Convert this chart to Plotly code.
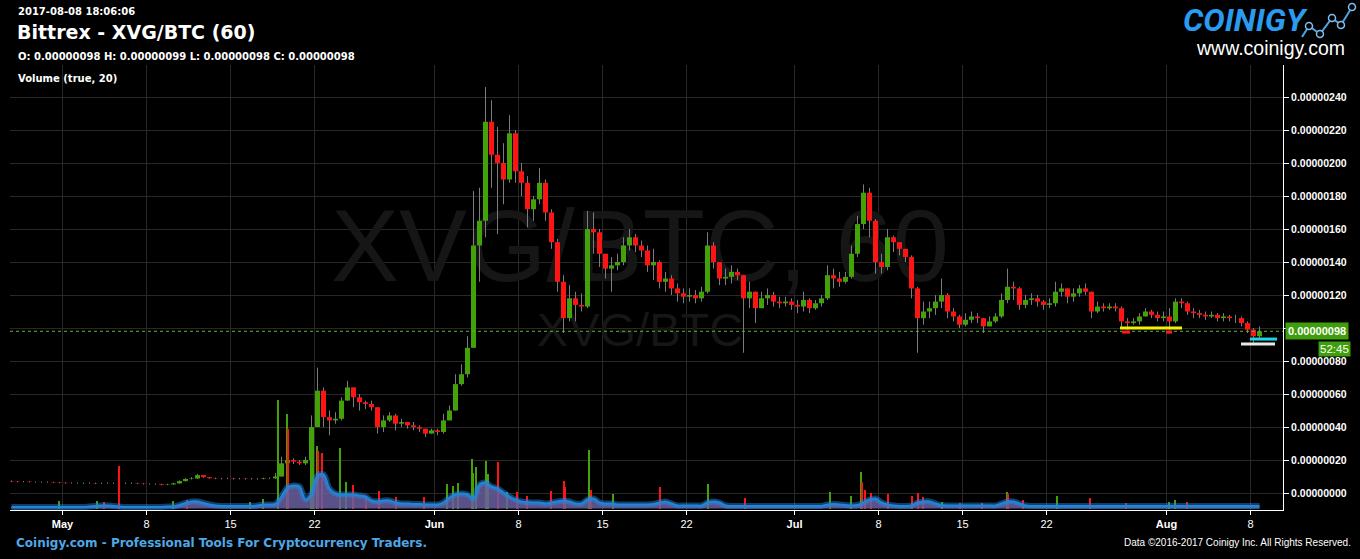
import plotly.graph_objects as go
import pandas as pd

# ---------------- data (prices in satoshi, 12h candles) ----------------
candle_start = "2017-04-26 12:00"
open_first = 7.2
close = [
    7.0, 6.8, 6.9, 6.7, 6.6, 6.5, 6.6, 6.4, 6.2, 6.0,
    6.1, 6.0, 5.9, 6.0, 5.8, 5.9, 6.0, 5.9, 5.8, 5.9,
    6.0, 5.8, 5.6, 5.5, 5.4, 5.0, 5.2, 5.8, 7.2, 8.5,
    8.8, 10.8, 9.6, 9.0, 8.8, 8.7, 8.8, 8.6, 8.7, 8.5,
    8.6, 8.5, 8.8, 8.9, 10.0, 18.0, 20.0, 19.0, 18.0, 20.0,
    40.0, 62.0, 46.0, 44.0, 45.0, 56.0, 64.0, 58.0, 55.0, 54.0,
    52.0, 40.0, 44.0, 47.0, 42.0, 43.0, 41.0, 40.0, 39.0, 36.0,
    38.0, 37.0, 44.0, 50.0, 66.0, 72.0, 88.0, 150.0, 165.0, 225.0,
    205.0, 200.0, 190.0, 218.0, 195.0, 188.0, 172.0, 178.0, 188.0, 170.0,
    152.0, 128.0, 106.0, 118.0, 114.0, 113.0, 160.0, 158.0, 145.0, 136.0,
    138.0, 140.0, 150.0, 155.0, 150.0, 147.0, 138.0, 140.0, 128.0, 130.0,
    124.0, 121.0, 119.0, 120.0, 118.0, 122.0, 150.0, 140.0, 130.0, 131.0,
    134.0, 132.0, 118.0, 122.0, 112.0, 118.0, 120.0, 116.0, 115.0, 116.0,
    114.0, 113.0, 117.0, 112.0, 115.0, 118.0, 132.0, 130.0, 128.0, 131.0,
    145.0, 163.0, 182.0, 165.0, 140.0, 137.0, 155.0, 152.0, 148.0, 143.0,
    124.0, 106.0, 110.0, 112.0, 116.0, 120.0, 110.0, 107.0, 102.0, 105.0,
    107.0, 106.0, 101.0, 104.0, 107.0, 117.0, 125.0, 124.0, 114.0, 117.0,
    118.0, 116.0, 114.0, 115.0, 122.0, 124.0, 119.0, 121.0, 124.0, 122.0,
    110.0, 113.0, 112.0, 113.0, 112.0, 104.0, 103.0, 104.0, 107.0, 110.0,
    108.0, 106.0, 107.0, 104.0, 116.0, 115.0, 110.0, 109.0, 108.0, 107.0,
    108.0, 106.0, 107.0, 106.0, 106.0, 103.0, 99.0, 95.0, 98.0,
]
high = [
    7.6, 7.3, 7.3, 7.1, 7.0, 6.9, 7.0, 6.8, 6.6, 6.4,
    6.5, 6.4, 6.3, 6.4, 6.2, 6.3, 6.4, 6.3, 6.2, 6.3,
    6.4, 6.2, 6.0, 5.9, 5.8, 5.6, 5.6, 6.3, 7.6, 9.0,
    9.6, 11.6, 11.0, 9.8, 9.3, 9.2, 9.3, 9.1, 9.2, 9.0,
    9.1, 9.0, 9.3, 9.4, 12.0, 22.0, 25.0, 21.0, 20.0, 22.0,
    47.0, 76.0, 64.0, 50.0, 49.0, 58.0, 68.0, 64.0, 60.0, 56.0,
    56.0, 52.0, 47.0, 49.0, 48.0, 45.0, 43.0, 43.0, 41.0, 39.0,
    39.0, 39.0, 48.0, 53.0, 72.0, 78.0, 95.0, 183.0, 185.0, 246.0,
    238.0, 222.0, 212.0, 229.0, 220.0, 200.0, 192.0, 180.0, 197.0, 190.0,
    172.0, 154.0, 132.0, 126.0, 122.0, 121.0, 171.0, 170.0, 160.0, 145.0,
    143.0, 145.0, 155.0, 160.0, 157.0, 153.0, 150.0, 148.0, 141.0, 134.0,
    132.0, 127.0, 124.0, 124.0, 123.0, 125.0, 158.0, 152.0, 138.0, 136.0,
    138.0, 136.0, 132.0, 128.0, 118.0, 122.0, 124.0, 122.0, 119.0, 119.0,
    118.0, 117.0, 122.0, 118.0, 117.0, 120.0, 138.0, 136.0, 134.0, 134.0,
    150.0, 168.0, 187.0, 185.0, 166.0, 145.0, 160.0, 156.0, 152.0, 148.0,
    144.0, 125.0, 116.0, 116.0, 120.0, 130.0, 121.0, 112.0, 108.0, 109.0,
    110.0, 109.0, 106.0, 107.0, 109.0, 121.0, 136.0, 128.0, 125.0, 120.0,
    121.0, 120.0, 117.0, 118.0, 128.0, 127.0, 123.0, 124.0, 126.0, 127.0,
    122.0, 116.0, 115.0, 115.0, 115.0, 113.0, 106.0, 106.0, 109.0, 112.0,
    111.0, 110.0, 110.0, 112.0, 118.0, 118.0, 116.0, 112.0, 111.0, 110.0,
    110.0, 109.0, 109.0, 108.0, 108.0, 107.0, 104.0, 100.0, 101.0,
]
low = [
    6.6, 6.5, 6.5, 6.4, 6.3, 6.2, 6.3, 6.1, 5.9, 5.7,
    5.8, 5.7, 5.5, 5.6, 5.4, 5.5, 5.6, 5.5, 5.4, 5.5,
    5.6, 5.4, 5.2, 5.1, 5.0, 4.6, 4.8, 5.1, 5.6, 7.0,
    8.2, 8.6, 9.2, 8.6, 8.4, 8.3, 8.4, 8.2, 8.3, 8.1,
    8.2, 8.1, 8.3, 8.4, 8.5, 10.0, 17.0, 17.5, 17.0, 17.0,
    19.5, 40.0, 40.0, 35.0, 42.0, 44.0, 56.0, 52.0, 50.0, 51.0,
    50.0, 36.0, 37.0, 43.0, 38.0, 40.0, 39.0, 38.0, 37.0, 34.0,
    36.0, 35.0, 36.0, 44.0, 50.0, 65.0, 70.0, 88.0, 128.0, 155.0,
    185.0, 157.0, 175.0, 188.0, 188.0, 180.0, 161.0, 165.0, 175.0, 165.0,
    148.0, 122.0, 97.0, 104.0, 104.0, 110.0, 112.0, 145.0, 137.0, 130.0,
    122.0, 135.0, 138.0, 147.0, 146.0, 143.0, 134.0, 129.0, 124.0, 122.0,
    120.0, 116.0, 115.0, 116.0, 115.0, 116.0, 121.0, 136.0, 126.0, 126.0,
    127.0, 129.0, 85.0, 112.0, 103.0, 112.0, 114.0, 113.0, 112.0, 113.0,
    111.0, 109.0, 110.0, 109.0, 111.0, 113.0, 117.0, 124.0, 125.0, 127.0,
    130.0, 143.0, 160.0, 155.0, 133.0, 133.0, 135.0, 146.0, 144.0, 140.0,
    118.0, 85.0, 102.0, 106.0, 108.0, 112.0, 106.0, 104.0, 100.0, 101.0,
    103.0, 103.0, 97.0, 102.0, 103.0, 106.0, 115.0, 117.0, 111.0, 112.0,
    114.0, 113.0, 111.0, 112.0, 113.0, 119.0, 115.0, 116.0, 119.0, 120.0,
    106.0, 109.0, 110.0, 111.0, 110.0, 100.0, 99.0, 102.0, 102.0, 107.0,
    106.0, 104.0, 104.0, 99.0, 103.0, 112.0, 108.0, 106.0, 106.0, 105.0,
    106.0, 104.0, 104.0, 104.0, 103.0, 101.0, 97.0, 91.0, 94.0,
]
# last hourly candle shown in the header (satoshi)
last_ohlc = [98, 99, 98, 98]

# volume moving average (20) per 12h candle, volume units
vol_ma = [
    1.5, 1.5, 1.5, 1.5, 1.5, 1.5, 1.5, 1.5, 1.5, 1.5,
    1.5, 1.5, 1.5, 2, 2.5, 3, 3, 2.5, 2, 1.5,
    1.5, 1.5, 1.5, 1.5, 1.5, 1.5, 2, 2, 3.5, 5.5,
    7, 7, 5.5, 4, 3, 2.5, 2.5, 2.5, 2.5, 2.5,
    2.5, 3, 4, 4, 4.5, 12, 21, 23, 22, 9,
    15, 33, 34, 20, 15, 14, 14, 14, 13, 12,
    8, 7, 8, 8, 6, 5, 5, 4.5, 4.5, 4,
    4, 4, 6, 11, 14, 15, 14, 10, 24, 26,
    22, 20, 16, 12, 9, 7, 6.5, 6, 6, 5,
    6, 7, 8, 7, 5, 5, 9, 10, 6, 5,
    5, 4, 4, 4, 4, 4, 4, 4.5, 6, 7,
    5, 3, 3, 3, 3, 3, 6, 7, 6, 3,
    2.5, 2.5, 2.5, 2.5, 2.5, 2.5, 2.5, 2.5, 2.5, 2.5,
    2.5, 2.5, 2.5, 2.5, 2.5, 2.5, 4, 4.5, 4, 3.5,
    3, 3.5, 6, 9, 10, 6, 4, 3, 2.5, 2.5,
    3, 6, 7, 7, 5, 3.5, 3, 3, 3, 3,
    3, 3, 3, 3, 3, 5, 7, 7, 5, 3,
    2.5, 2.5, 2.5, 2.5, 2.5, 2.5, 2.5, 2.5, 2.5, 2.5,
    2.5, 2.5, 2.5, 2.5, 2.5, 2.5, 2.5, 2.5, 2.5, 2.5,
    2.5, 2.5, 2.5, 2.5, 2.5, 2.5, 2.5, 2.5, 2.5, 2.5,
    2.5, 2.5, 2.5, 2.5, 2.5, 2.5, 2.5, 2.5, 2.5,
]

# notable hourly volume bars
spike_time = [
    "2017-04-30 17:00", "2017-05-03 21:00", "2017-05-04 11:00", "2017-05-05 17:00",
    "2017-05-10 05:00", "2017-05-11 09:00", "2017-05-16 15:00", "2017-05-17 17:00",
    "2017-05-18 23:00", "2017-05-19 17:00", "2017-05-19 19:00", "2017-05-21 17:00",
    "2017-05-21 21:00", "2017-05-22 05:00", "2017-05-22 07:00", "2017-05-22 15:00",
    "2017-05-24 03:00", "2017-05-24 15:00", "2017-05-25 05:00", "2017-05-26 07:00",
    "2017-05-27 09:00", "2017-05-28 19:00", "2017-05-31 03:00", "2017-06-02 01:00",
    "2017-06-02 13:00", "2017-06-02 23:00", "2017-06-04 03:00", "2017-06-04 05:00",
    "2017-06-04 11:00", "2017-06-05 07:00", "2017-06-05 11:00", "2017-06-06 07:00",
    "2017-06-07 01:00", "2017-06-07 21:00", "2017-06-08 17:00", "2017-06-10 17:00",
    "2017-06-11 19:00", "2017-06-11 21:00", "2017-06-13 21:00", "2017-06-14 01:00",
    "2017-06-15 21:00", "2017-06-19 19:00", "2017-06-23 19:00", "2017-06-26 21:00",
    "2017-07-03 23:00", "2017-07-05 17:00", "2017-07-06 13:00", "2017-07-06 15:00",
    "2017-07-06 21:00", "2017-07-07 09:00", "2017-07-08 19:00", "2017-07-10 19:00",
    "2017-07-11 07:00", "2017-07-11 17:00", "2017-07-13 07:00", "2017-07-14 19:00",
    "2017-07-16 15:00", "2017-07-18 17:00", "2017-07-18 19:00", "2017-07-20 01:00",
    "2017-07-22 21:00", "2017-07-25 15:00", "2017-07-28 15:00", "2017-08-01 05:00",
    "2017-08-01 17:00", "2017-08-02 17:00",
]
spike_vol = [
    8, 8, 7, 43, 8, 9, 7, 10, 109, 95, 80, 58, 55, 63, 58, 56, 61, 27, 24, 10,
    18, 12, 12, 25, 23, 26, 50, 36, 42, 48, 35, 47, 17, 17, 13, 18, 28, 22, 59, 19,
    15, 22, 25, 11, 17, 13, 37, 27, 19, 16, 15, 13, 16, 12, 7, 6, 6, 17, 15, 9,
    13, 11, 6, 7, 9, 7,
]
spike_dir = [
    "up", "up", "down", "down", "up", "down", "up", "up", "up", "up",
    "down", "up", "up", "up", "down", "down", "up", "up", "down", "down",
    "down", "down", "down", "up", "up", "up", "up", "up", "up", "up",
    "up", "down", "up", "down", "down", "down", "down", "down", "up", "down",
    "up", "down", "up", "down", "up", "up", "up", "down", "down", "down",
    "down", "down", "down", "down", "up", "down", "down", "up", "down", "down",
    "up", "down", "down", "up", "up", "down",
]

# user drawings (price levels, satoshi)
draw_level = [100.0, 97.5, 97.5, 93.3, 90.3]
draw_start = ["2017-07-28 03:00", "2017-07-28 07:00", "2017-07-31 23:00", "2017-08-07 23:00", "2017-08-07 05:00"]
draw_end = ["2017-08-02 07:00", "2017-07-28 23:00", "2017-08-01 11:00", "2017-08-10 05:00", "2017-08-10 01:00"]
draw_color = ["#f5f000", "#ff1a1a", "#ff1a1a", "#19d6e6", "#e8e8e8"]

x_ticks = ["2017-05-01", "2017-05-08", "2017-05-15", "2017-05-22", "2017-06-01", "2017-06-08",
           "2017-06-15", "2017-06-22", "2017-07-01", "2017-07-08", "2017-07-15", "2017-07-22",
           "2017-08-01", "2017-08-08"]
x_labels = ["<b>May</b>", "8", "15", "22", "<b>Jun</b>", "8", "15", "22", "<b>Jul</b>", "8", "15",
            "22", "<b>Aug</b>", "8"]
y_ticks_sat = [0, 20, 40, 60, 80, 100, 120, 140, 160, 180, 200, 220, 240]
y_hidden_label = 100   # covered by the last-price box in the reference

countdown = "52:45"
stamp = "2017-08-08 18:06:06"
title = "Bittrex - XVG/BTC (60)"

# ---------------- build ----------------
SAT = 1e-8
GREEN = "#43a10a"
RED = "#ff1414"
WICK = "#7c7c7c"
n = len(close)
t = list(pd.date_range(candle_start, periods=n, freq="12h") + pd.Timedelta(hours=6))
opens = [open_first] + close[:-1]
hi = [max(h, o, c) for h, o, c in zip(high, opens, close)]
lo = [min(l, o, c) for l, o, c in zip(low, opens, close)]

fig = go.Figure()

# watermark (behind the candles)
fig.add_trace(go.Scatter(
    x=[pd.Timestamp("2017-06-18 03:00"), pd.Timestamp("2017-06-18 03:00")],
    y=[144 * SAT, 96 * SAT], mode="text",
    text=["XVG/BTC, 60", "XVG/BTC"],
    textfont=dict(family="Liberation Sans", size=[102, 47], color="#161616"),
    hoverinfo="skip", showlegend=False))

# candles: wicks, then bodies as thick vertical segments
wx, wy = [], []
for ti, h, l in zip(t, hi, lo):
    wx += [ti, ti, None]
    wy += [l * SAT, h * SAT, None]
fig.add_trace(go.Scatter(x=wx, y=wy, mode="lines", line=dict(color=WICK, width=1),
                         hoverinfo="skip", showlegend=False))
for up, col in ((True, GREEN), (False, RED)):
    bx, by = [], []
    for ti, o, c in zip(t, opens, close):
        if (c >= o) == up:
            bx += [ti, ti, None]
            by += [o * SAT, c * SAT, None]
    fig.add_trace(go.Scatter(x=bx, y=by, mode="lines", line=dict(color=col, width=5),
                             hoverinfo="skip", showlegend=False))

# volume
fig.add_trace(go.Scatter(
    x=t, y=vol_ma, yaxis="y2", mode="lines", line=dict(color="rgba(0,0,0,0)", shape="spline"),
    fill="tozeroy", fillcolor="rgba(105,95,160,0.85)", hoverinfo="skip", showlegend=False))
fig.add_trace(go.Bar(
    x=pd.to_datetime(spike_time), y=spike_vol, yaxis="y2",
    marker=dict(color=[GREEN if d == "up" else RED for d in spike_dir], line=dict(width=0)),
    width=2 * 3600 * 1000, hoverinfo="skip", showlegend=False))
fig.add_trace(go.Scatter(
    x=t, y=vol_ma, yaxis="y2", mode="lines",
    line=dict(color="rgba(40,140,230,0.45)", width=6, shape="spline"),
    hoverinfo="skip", showlegend=False))
fig.add_trace(go.Scatter(
    x=t, y=vol_ma, yaxis="y2", mode="lines",
    line=dict(color="#1f86dc", width=2, shape="spline"),
    hoverinfo="skip", showlegend=False))

shapes = []
# last price dotted line
shapes.append(dict(type="line", xref="paper", x0=0, x1=1, yref="y",
                   y0=last_ohlc[3] * SAT, y1=last_ohlc[3] * SAT,
                   line=dict(color="#5cb82e", width=1, dash="dot")))
for lv, s, e, c in zip(draw_level, draw_start, draw_end, draw_color):
    shapes.append(dict(type="line", xref="x", yref="y", x0=s, x1=e, y0=lv * SAT, y1=lv * SAT,
                       line=dict(color=c, width=3)))

# logo icon (decoration)
pts = [(1302, 37), (1309, 26), (1320, 34), (1332, 18), (1341, 25), (1352, 7)]
PW, PH = 1273.0, 445.0
def px(x): return (x - 10) / PW
def py(y): return (510 - y) / PH
path = "M " + " L ".join(f"{px(a):.5f},{py(b):.5f}" for a, b in pts)
shapes.append(dict(type="path", xref="paper", yref="paper", path=path,
                   line=dict(color="#4da3e4", width=2)))
for a, b in pts[1:]:
    shapes.append(dict(type="circle", xref="paper", yref="paper",
                       x0=px(a - 3.5), x1=px(a + 3.5), y0=py(b + 3.5), y1=py(b - 3.5),
                       line=dict(color="#7fbdf0", width=1.5), fillcolor="black"))

hdr = "DejaVu Sans"
o_, h_, l_, c_ = [v * SAT for v in last_ohlc]
ann = [
    dict(text=f"<b>{stamp}</b>", x=px(16), y=py(11), font=dict(family=hdr, size=10, color="white"),
         xanchor="left", yanchor="middle"),
    dict(text=f"<b>{title}</b>", x=px(15), y=py(32), font=dict(family=hdr, size=19, color="white"),
         xanchor="left", yanchor="middle"),
    dict(text=f"<b>O: {o_:.8f} H: {h_:.8f} L: {l_:.8f} C: {c_:.8f}</b>",
         x=px(16), y=py(56), font=dict(family=hdr, size=10, color="white"),
         xanchor="left", yanchor="middle"),
    dict(text="<b>Volume (true, 20)</b>", x=px(16), y=py(78), font=dict(family=hdr, size=10, color="white"),
         xanchor="left", yanchor="middle"),
    dict(text="<b><i>COINIGY</i></b>", x=px(1245), y=py(20),
         font=dict(family="Roboto", size=32, color="#2a9bef"),
         xanchor="center", yanchor="middle"),
    dict(text="www.coinigy.com", x=px(1270), y=py(48),
         font=dict(family="Liberation Sans", size=19.5, color="white"),
         xanchor="center", yanchor="middle"),
    dict(text="<b>Coinigy.com - Professional Tools For Cryptocurrency Traders.</b>", x=px(14), y=py(543),
         font=dict(family=hdr, size=12, color="#4ea8e6"), xanchor="left", yanchor="middle"),
    dict(text="Data ©2016-2017 Coinigy Inc. All Rights Reserved.", x=px(1353), y=py(542),
         font=dict(family="Liberation Sans", size=10, color="white"), xanchor="right", yanchor="middle"),
    dict(text=f"<b>{c_:.8f}</b>", x=1, xref="paper", y=c_, yref="y",
         xanchor="left", yanchor="middle", xshift=2, bgcolor="#3f9e0c", borderpad=2,
         font=dict(family="Liberation Sans", size=11, color="white")),
    dict(text=countdown, x=1, xref="paper", y=c_, yref="y",
         xanchor="left", yanchor="middle", xshift=35, yshift=-18, bgcolor="#3f9e0c", borderpad=1,
         font=dict(family="Liberation Sans", size=11.5, color="white")),
]
for a in ann:
    a.setdefault("xref", "paper")
    a.setdefault("yref", "paper")
    a["showarrow"] = False

y_text = ["" if v == y_hidden_label else f"{v * SAT:.8f}" for v in y_ticks_sat]

fig.update_layout(
    width=1360, height=559,
    margin=dict(l=10, r=77, t=65, b=49),
    paper_bgcolor="black", plot_bgcolor="black",
    showlegend=False, bargap=0,
    shapes=shapes, annotations=ann,
    xaxis=dict(type="date", range=["2017-04-26 15:00", "2017-08-10 17:00"],
               tickvals=x_ticks, ticktext=x_labels, showgrid=True, gridcolor="#282828",
               showline=True, linecolor="white", linewidth=1, ticks="outside", ticklen=4,
               tickcolor="white", tickfont=dict(family="Liberation Sans", size=11, color="white"),
               zeroline=False, fixedrange=True),
    yaxis=dict(side="right", range=[-10.3 * SAT, 259.4 * SAT],
               tickvals=[v * SAT for v in y_ticks_sat], ticktext=y_text,
               showgrid=True, gridcolor="#282828", zeroline=False,
               showline=True, linecolor="white", linewidth=1, ticks="outside", ticklen=5,
               tickcolor="white",
               tickfont=dict(family="Liberation Sans", size=10.5, color="white", weight="bold")),
    yaxis2=dict(overlaying="y", range=[-1.5, 443.5], visible=False, showgrid=False),
)

fig.write_html("out.html", config={"displayModeBar": False},
               post_script="document.body.style.margin='0px';")
